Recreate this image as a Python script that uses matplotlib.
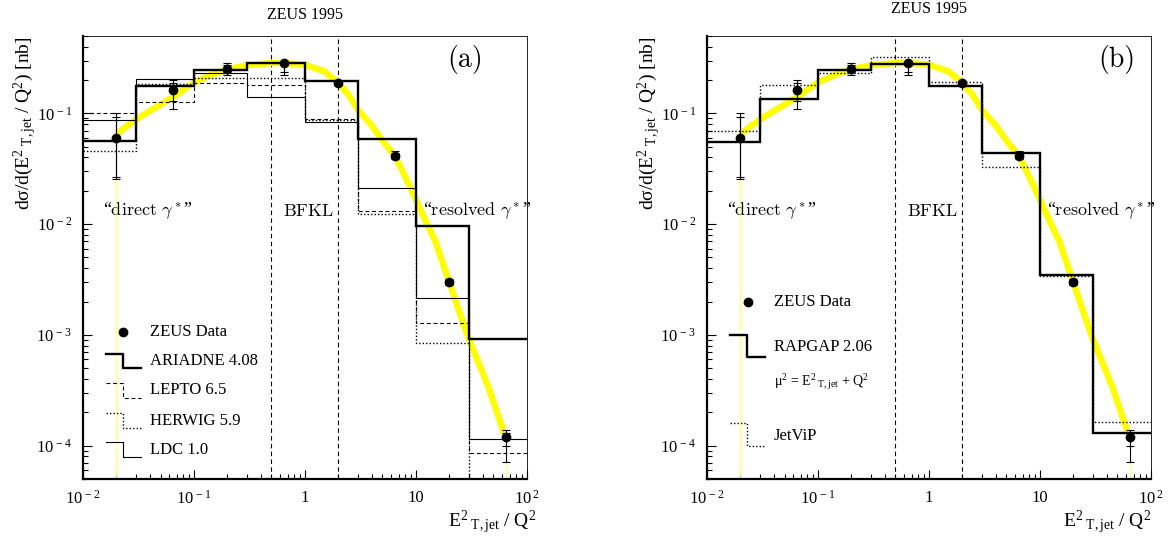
"""ZEUS 1995 forward-jet cross section vs E_T,jet^2/Q^2, two panels with MC comparisons."""
import numpy as np
import matplotlib
matplotlib.use("Agg")
import matplotlib.pyplot as plt

plt.rcParams["font.family"] = ["Liberation Serif", "DejaVu Serif"]
plt.rcParams["mathtext.fontset"] = "custom"
plt.rcParams["mathtext.rm"] = "Liberation Serif"
plt.rcParams["mathtext.it"] = "Liberation Serif:italic"

# bin edges and data
edges = [0.01, 0.03, 0.1, 0.3, 1, 3, 10, 30, 100]
data_x = [0.02, 0.065, 0.2, 0.65, 2.0, 6.5, 20, 65]
data_y = [0.060, 0.161, 0.252, 0.286, 0.188, 0.041, 0.0030, 1.2e-4]
tot_lo = [0.0255, 0.109, 0.224, 0.22, 0.180, 0.0390, 0.0028, 7.1e-5]
tot_hi = [0.100, 0.200, 0.284, 0.292, 0.195, 0.0457, 0.0032, 1.38e-4]
stat_lo = [0.0266, 0.130, 0.235, 0.236, 0.183, 0.0400, 0.0029, 1.0e-4]
stat_hi = [0.092, 0.190, 0.275, 0.290, 0.193, 0.0442, 0.0031, 1.29e-4]

# yellow band
band_x = [0.02, 0.025, 0.03, 0.04, 0.05, 0.07, 0.1, 0.15, 0.2, 0.3, 0.5, 0.7, 1.0,
          1.5, 2.0, 2.5, 3.0, 4.0, 5.0, 6.5, 8.0, 10, 12.5, 15, 20, 25, 30, 45, 65]
band_y = [0.065, 0.077, 0.088, 0.105, 0.12, 0.148, 0.19, 0.228, 0.25, 0.272, 0.285,
          0.284, 0.275, 0.24, 0.19, 0.145, 0.108, 0.078, 0.057, 0.041, 0.027, 0.0168,
          0.0102, 0.0070, 0.0030, 0.00155, 9.2e-4, 3.4e-4, 1.15e-4]

# panel (a) Monte Carlo predictions
ariadne = [0.056, 0.175, 0.244, 0.286, 0.195, 0.059, 0.0097, 9.2e-4]
lepto = [0.100, 0.126, 0.189, 0.181, 0.0896, 0.0132, 0.00129, 8.65e-5]
herwig = [0.0457, 0.185, 0.21, 0.21, 0.088, 0.0124, 8.5e-4, 1e-6]
ldc = [0.0865, 0.2025, 0.23, 0.14, 0.0835, 0.0213, 0.00217, 1.16e-4]

# panel (b)
rapgap = [0.055, 0.1355, 0.244, 0.282, 0.175, 0.044, 0.0035, 1.31e-4]
jetvip = [0.069, 0.179, 0.231, 0.321, 0.194, 0.0329, 0.0034, 1.64e-4]

xticks = [0.01, 0.1, 1, 10, 100]
xticklabels = ["10$^{\\,-2}$", "10$^{\\,-1}$", "1", "10", "10$^{\\,2}$"]
yticks = [1e-4, 1e-3, 1e-2, 1e-1]
yticklabels = ["10$^{\\,-4}$", "10$^{\\,-3}$", "10$^{\\,-2}$", "10$^{\\,-1}$"]

THICK = 1.7
THIN = 0.8
DASH = (0, (3.5, 2.5))
DOT = (0, (1, 1.5))
SUB = "$^{2}{}_{\\ \\rm T,jet}$"


def cm_text(ax, x, y, s):
    ax.text(x, y, s, fontsize=13, va="center", math_fontfamily="cm")


def setup(ax):
    ax.set_xscale("log")
    ax.set_yscale("log")
    ax.set_xlim(0.01, 100)
    ax.set_ylim(5e-5, 0.5)
    ax.set_xticks(xticks)
    ax.set_xticklabels(xticklabels)
    ax.set_yticks(yticks)
    ax.set_yticklabels(yticklabels)
    ax.tick_params(which="both", direction="in", top=False, right=False, labelsize=12)
    ax.tick_params(which="major", length=6.5, width=0.8, pad=8)
    ax.tick_params(which="minor", length=3.5, width=0.8)
    for side in ("left", "bottom"):
        ax.spines[side].set_linewidth(1.6)
    for side in ("top", "right"):
        ax.spines[side].set_linewidth(0.6)
    for xv in (0.5, 2.0):
        ax.axvline(xv, color="black", lw=0.8, ls=(0, (4, 3)))
    # the yellow band and its thin end lines
    ax.plot(band_x, band_y, color="#ffff00", lw=4.6, solid_capstyle="butt",
            solid_joinstyle="round", zorder=2)
    ax.plot([band_x[0], band_x[0]], [1e-6, band_y[0]], color="#ffff88", lw=0.6, zorder=2)
    ax.plot([band_x[-1], band_x[-1]], [1e-6, band_y[-1]], color="#ffff88", lw=0.6, zorder=2)
    # region labels
    cm_text(ax, 0.015, 0.0131, "\u201c$\\mathrm{direct}\\ \\gamma^*$\u201d")
    cm_text(ax, 0.63, 0.0131, "$\\mathrm{BFKL}$")
    cm_text(ax, 11.7, 0.0131, "\u201c$\\mathrm{resolved}\\ \\gamma^*$\u201d")
    ax.text(-0.13, 1.0, "d\u03c3/d(E" + SUB + " / Q$^{2}$) [nb]", transform=ax.transAxes,
            rotation=90, ha="center", va="top", fontsize=14)


def draw_data(ax):
    x = np.array(data_x)
    y = np.array(data_y)
    ax.errorbar(x, y, yerr=[y - np.array(tot_lo), np.array(tot_hi) - y], fmt="none",
                ecolor="black", elinewidth=0.8, capsize=2.6, capthick=0.8, zorder=5)
    ax.errorbar(x, y, yerr=[y - np.array(stat_lo), np.array(stat_hi) - y], fmt="none",
                ecolor="black", elinewidth=0.8, capsize=2.6, capthick=0.8, zorder=5)
    ax.plot(x, y, "o", color="black", ms=6, zorder=6)


def legend_step(ax, x0, y_hi, y_lo, lw, ls):
    ax.plot([x0, x0 + 0.038, x0 + 0.038, x0 + 0.079], [y_hi, y_hi, y_lo, y_lo],
            transform=ax.transAxes, color="black", lw=lw, ls=ls, clip_on=False)


fig = plt.figure(figsize=(11.74, 5.38), dpi=100)
ax1 = fig.add_axes([0.0707, 0.1097, 0.378, 0.8234])
ax2 = fig.add_axes([0.6022, 0.1097, 0.378, 0.8234])

# panel (a)
setup(ax1)
ax1.stairs(ldc, edges, baseline=None, color="black", lw=THIN, zorder=3)
ax1.stairs(lepto, edges, baseline=None, color="black", lw=THIN, ls=DASH, zorder=3)
ax1.stairs(herwig, edges, baseline=None, color="black", lw=1.0, ls=DOT, zorder=3)
ax1.stairs(ariadne, edges, baseline=None, color="black", lw=THICK, zorder=4)
draw_data(ax1)
ax1.text(0.5, 1.047, "ZEUS 1995", transform=ax1.transAxes, ha="center", va="center", fontsize=11.5)
ax1.text(0.86, 0.946, "(a)", transform=ax1.transAxes, ha="center", va="center", fontsize=20,
         family=["cmr10", "DejaVu Serif"])
ax1.text(1.022, -0.099, "E" + SUB + " / Q$^{2}$", transform=ax1.transAxes,
         ha="right", va="center", fontsize=14)

ax1.plot([0.090], [0.3325], "o", color="black", ms=6, transform=ax1.transAxes, clip_on=False)
ax1.text(0.151, 0.3325, "ZEUS Data", transform=ax1.transAxes, va="center", fontsize=12)
legend_step(ax1, 0.052, 0.282, 0.250, THICK, "-")
ax1.text(0.151, 0.266, "ARIADNE 4.08", transform=ax1.transAxes, va="center", fontsize=12)
legend_step(ax1, 0.052, 0.216, 0.1835, THIN, DASH)
ax1.text(0.151, 0.201, "LEPTO 6.5", transform=ax1.transAxes, va="center", fontsize=12)
legend_step(ax1, 0.052, 0.150, 0.116, 1.0, DOT)
ax1.text(0.151, 0.131, "HERWIG 5.9", transform=ax1.transAxes, va="center", fontsize=12)
legend_step(ax1, 0.052, 0.0835, 0.050, THIN, "-")
ax1.text(0.151, 0.0655, "LDC 1.0", transform=ax1.transAxes, va="center", fontsize=12)

# panel (b)
setup(ax2)
ax2.stairs(jetvip, edges, baseline=None, color="black", lw=1.0, ls=DOT, zorder=3)
ax2.stairs(rapgap, edges, baseline=None, color="black", lw=THICK, zorder=4)
draw_data(ax2)
ax2.text(0.5, 1.06, "ZEUS 1995", transform=ax2.transAxes, ha="center", va="center", fontsize=11.5)
ax2.text(0.923, 0.946, "(b)", transform=ax2.transAxes, ha="center", va="center", fontsize=20,
         family=["cmr10", "DejaVu Serif"])
ax2.text(1.0, -0.099, "E" + SUB + " / Q$^{2}$", transform=ax2.transAxes,
         ha="right", va="center", fontsize=14)

ax2.plot([0.0916], [0.399], "o", color="black", ms=6, transform=ax2.transAxes, clip_on=False)
ax2.text(0.151, 0.399, "ZEUS Data", transform=ax2.transAxes, va="center", fontsize=12)
legend_step(ax2, 0.052, 0.325, 0.2747, THICK, "-")
ax2.text(0.151, 0.297, "RAPGAP 2.06", transform=ax2.transAxes, va="center", fontsize=12)
ax2.text(0.151, 0.2196, "\u03bc$^{2}$ = E" + SUB + " + Q$^{2}$", transform=ax2.transAxes,
         va="center", fontsize=10)
legend_step(ax2, 0.052, 0.1257, 0.075, 1.0, DOT)
ax2.text(0.151, 0.0977, "JetViP", transform=ax2.transAxes, va="center", fontsize=12)

fig.savefig("out.png", dpi=100)
plt.close(fig)
